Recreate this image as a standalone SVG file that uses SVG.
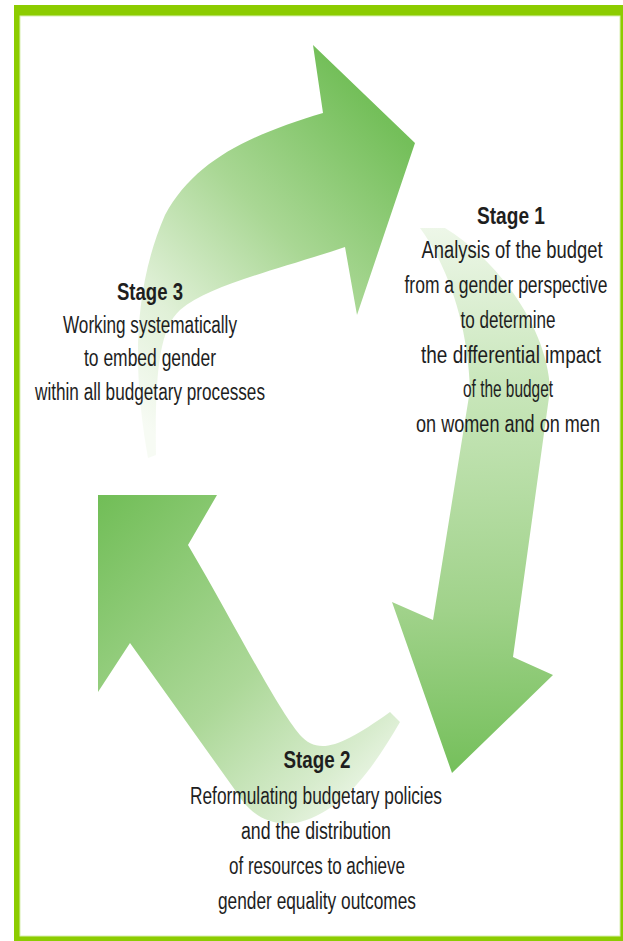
<svg xmlns="http://www.w3.org/2000/svg" width="623" height="941" viewBox="0 0 623 941">
<defs>
<linearGradient id="g3" gradientUnits="userSpaceOnUse" x1="140" y1="420" x2="415" y2="150">
<stop offset="0" stop-color="#f7fbf4"/>
<stop offset="0.25" stop-color="#e0f0d7"/>
<stop offset="0.6" stop-color="#a9d794"/>
<stop offset="1" stop-color="#74bf5a"/>
</linearGradient>
<linearGradient id="g1" gradientUnits="userSpaceOnUse" x1="450" y1="225" x2="470" y2="775">
<stop offset="0" stop-color="#eef7e9"/>
<stop offset="0.3" stop-color="#c8e6ba"/>
<stop offset="0.7" stop-color="#a0d28a"/>
<stop offset="1" stop-color="#74bf5a"/>
</linearGradient>
<linearGradient id="g2" gradientUnits="userSpaceOnUse" x1="100" y1="500" x2="390" y2="800">
<stop offset="0" stop-color="#72be58"/>
<stop offset="0.55" stop-color="#acd898"/>
<stop offset="0.85" stop-color="#d8ecce"/>
<stop offset="1" stop-color="#f4faf1"/>
</linearGradient>
<style>
.t{font-family:"Liberation Sans",Arial,sans-serif;font-size:23px;fill:#1e1e1e;text-anchor:middle}
.b{font-weight:bold}
</style>
</defs>
<rect x="0" y="0" width="623" height="941" fill="#ffffff"/>
<rect x="14" y="5" width="609" height="936" fill="#8ccc00"/>
<rect x="20" y="16" width="600" height="920" fill="#ffffff" stroke="#d8efb0" stroke-width="1"/>
<g id="connectors">
<path id="arrow3to1" fill="url(#g3)" d="M 148,458 C 136,390 128,300 165,215 C 195,160 250,135 323,113 L 313,45 L 415,143 L 357,315 L 345,247 C 270,272 210,285 180,310 C 158,330 155,380 156,455 Z"/>
<path id="arrow1to2" fill="url(#g1)" d="M 420,228 C 445,262 468,320 470,390 L 433,620 L 392,602 L 452,773 L 553,675 L 513,657 L 550,390 C 548,330 500,262 445,228 Z"/>
<path id="arrow2to3" fill="url(#g2)" d="M 98,495 L 217,495 L 188,545 C 235,625 275,705 300,735 C 318,755 340,748 390,712 L 400,722 C 375,765 345,810 300,822 C 270,828 250,815 235,790 L 130,643 L 98,692 Z"/>
</g>
<g id="stage1">
<text class="t b" x="511" y="224" textLength="68" lengthAdjust="spacingAndGlyphs">Stage 1</text>
<text class="t" x="512" y="258" textLength="181" lengthAdjust="spacingAndGlyphs">Analysis of the budget</text>
<text class="t" x="506" y="293" textLength="203" lengthAdjust="spacingAndGlyphs">from a gender perspective</text>
<text class="t" x="508" y="328" textLength="95" lengthAdjust="spacingAndGlyphs">to determine</text>
<text class="t" x="511" y="363" textLength="180" lengthAdjust="spacingAndGlyphs">the differential impact</text>
<text class="t" x="508" y="397" textLength="90" lengthAdjust="spacingAndGlyphs">of the budget</text>
<text class="t" x="508" y="432" textLength="184" lengthAdjust="spacingAndGlyphs">on women and on men</text>
</g>
<g id="stage3">
<text class="t b" x="150" y="300" textLength="66" lengthAdjust="spacingAndGlyphs">Stage 3</text>
<text class="t" x="150" y="333" textLength="174" lengthAdjust="spacingAndGlyphs">Working systematically</text>
<text class="t" x="150" y="366" textLength="132" lengthAdjust="spacingAndGlyphs">to embed gender</text>
<text class="t" x="150" y="400" textLength="230" lengthAdjust="spacingAndGlyphs">within all budgetary processes</text>
</g>
<g id="stage2">
<text class="t b" x="317" y="768" textLength="67" lengthAdjust="spacingAndGlyphs">Stage 2</text>
<text class="t" x="316" y="804" textLength="252" lengthAdjust="spacingAndGlyphs">Reformulating budgetary policies</text>
<text class="t" x="316" y="839" textLength="150" lengthAdjust="spacingAndGlyphs">and the distribution</text>
<text class="t" x="317" y="874" textLength="176" lengthAdjust="spacingAndGlyphs">of resources to achieve</text>
<text class="t" x="317" y="909" textLength="198" lengthAdjust="spacingAndGlyphs">gender equality outcomes</text>
</g>
</svg>
